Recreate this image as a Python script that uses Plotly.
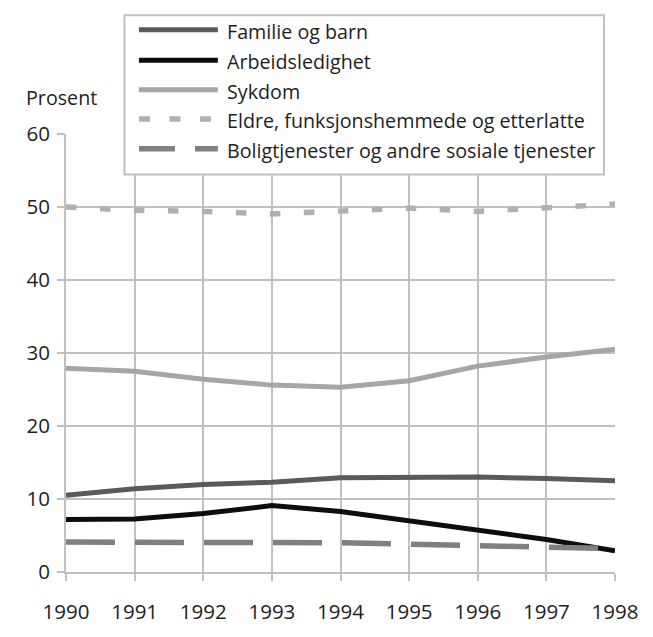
import plotly.graph_objects as go

years = [1990, 1991, 1992, 1993, 1994, 1995, 1996, 1997, 1998]
series_names = [
    "Familie og barn",
    "Arbeidsledighet",
    "Sykdom",
    "Eldre, funksjonshemmede og etterlatte",
    "Boligtjenester og andre sosiale tjenester",
]
familie = [10.5, 11.4, 12.0, 12.3, 12.9, 13.0, 13.0, 12.8, 12.5]
arbeid = [7.2, 7.25, 8.0, 9.1, 8.3, 7.0, 5.8, 4.45, 2.9]
sykdom = [27.9, 27.5, 26.4, 25.6, 25.3, 26.2, 28.2, 29.45, 30.5]
eldre = [50.0, 49.55, 49.4, 49.05, 49.45, 49.85, 49.4, 49.95, 50.4]
bolig = [4.1, 4.1, 4.0, 4.0, 4.0, 3.8, 3.6, 3.3, 3.2]
values = [familie, arbeid, sykdom, eldre, bolig]
y_ticks = [0, 10, 20, 30, 40, 50, 60]

colors = ["#5a5a5a", "#0d0d0d", "#a6a6a6", "#b0b0b0", "#808080"]
dashes = ["solid", "solid", "solid", "10.5px,23.5px", "49px,20px"]
legend_dashes = ["solid", "solid", "solid", "11px,19.5px", "36px,20px"]
widths = [5, 5, 5, 5.5, 5.5]

FONT = "Open Sans"
FS = 19.7
TICK_FS = 20.5
TXT = "#1e1e1e"
GRID = "#c0c0c0"

# page has an 8px body margin; figure sized so page coords match the reference
OFF = 8
W, H = 653 - OFF, 637 - OFF
PX0, PX1 = 65.5, 615.0   # page x of plot left / right
PY0, PY1 = 134.0, 577.0  # page y of plot top / bottom
L = PX0 - OFF
T = PY0 - OFF
PW = PX1 - PX0
PH = PY1 - PY0
R = W - L - PW
B = H - T - PH


def px_x(x):
    return (x - PX0) / PW


def px_y(y):
    return (PY1 - y) / PH


fig = go.Figure()
for name, vals, c, d, w in zip(series_names, values, colors, dashes, widths):
    fig.add_trace(go.Scatter(x=years, y=vals, mode="lines", name=name,
                             line=dict(color=c, width=w, dash=d),
                             showlegend=False, hoverinfo="skip"))

shapes = [dict(type="rect", xref="paper", yref="paper",
               x0=px_x(124), x1=px_x(604), y0=px_y(175), y1=px_y(14),
               fillcolor="white", line=dict(color=GRID, width=2), layer="above")]
annotations = []
rows = [28.5, 59.3, 89.3, 118.8, 149]
for name, c, d, w, ry in zip(series_names, colors, legend_dashes, widths, rows):
    shapes.append(dict(type="line", xref="paper", yref="paper",
                       x0=px_x(138.5), x1=px_x(217.5), y0=px_y(ry), y1=px_y(ry),
                       line=dict(color=c, width=w, dash=d), layer="above"))
    annotations.append(dict(xref="paper", yref="paper", x=px_x(225), y=px_y(ry + 1.5),
                            text=name, showarrow=False, xanchor="left", yanchor="middle",
                            font=dict(family=FONT, size=FS, color=TXT)))
annotations.append(dict(xref="paper", yref="paper", x=px_x(23), y=px_y(97),
                        text="Prosent", showarrow=False, xanchor="left", yanchor="middle",
                        font=dict(family=FONT, size=FS, color=TXT)))

fig.update_layout(
    width=W, height=H,
    margin=dict(l=L, r=R, t=T, b=B, pad=0),
    paper_bgcolor="white", plot_bgcolor="white",
    font=dict(family=FONT, size=FS, color=TXT),
    shapes=shapes, annotations=annotations,
    showlegend=False,
)
fig.update_xaxes(range=[1990, 1998], tickvals=years, ticktext=[str(y) for y in years],
                 tickfont=dict(family=FONT, size=TICK_FS, color=TXT),
                 showgrid=True, gridcolor=GRID, gridwidth=2,
                 showline=True, linecolor=GRID, linewidth=2, mirror=False,
                 ticks="outside", ticklen=7, tickwidth=2, tickcolor=GRID,
                 zeroline=False, ticklabelstandoff=13)
fig.update_yaxes(range=[0, 60], tickvals=y_ticks,
                 tickfont=dict(family=FONT, size=TICK_FS, color=TXT),
                 showgrid=True, gridcolor=GRID, gridwidth=2,
                 showline=True, linecolor=GRID, linewidth=2,
                 ticks="outside", ticklen=7, tickwidth=2, tickcolor=GRID,
                 zeroline=False, ticklabelstandoff=3)

fig.write_html("out.html")
